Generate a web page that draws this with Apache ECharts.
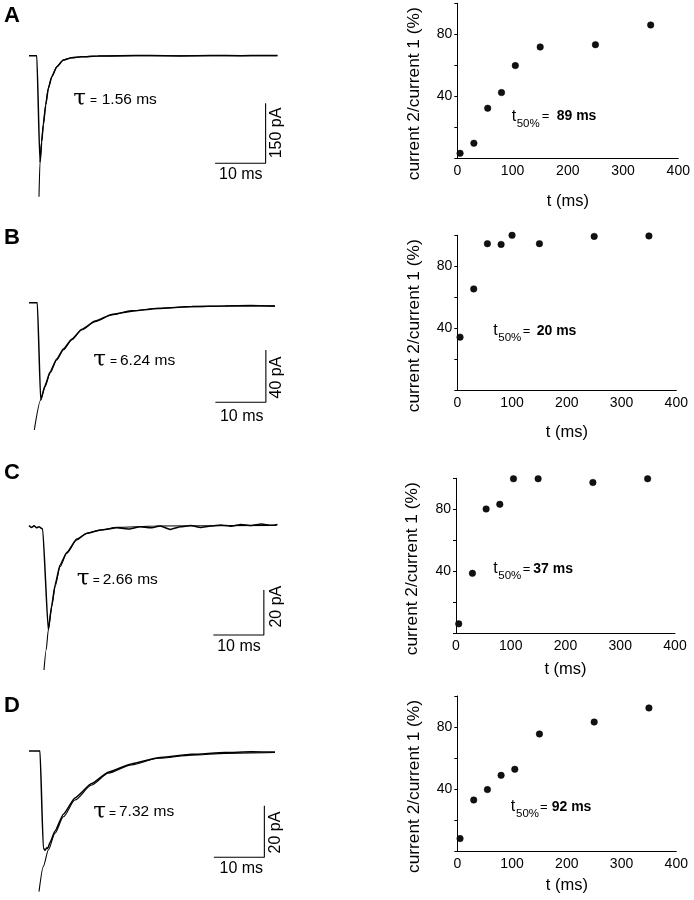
<!DOCTYPE html>
<html><head><meta charset="utf-8">
<script src="https://cdn.jsdelivr.net/npm/echarts@6/dist/echarts.min.js"></script>
<style>html,body{margin:0;padding:0;background:#fff}#c{width:694px;height:900px}</style>
</head><body><div id="c"></div>
<script>
// ---------- DATA ----------
const panelLetters = ['A', 'B', 'C', 'D'];
const tauLabels = ['1.56 ms', '6.24 ms', '2.66 ms', '7.32 ms'];
const t50Labels = ['89 ms', '20 ms', '37 ms', '92 ms'];
const currentScaleLabels = ['150 pA', '40 pA', '20 pA', '20 pA'];
const timeScaleLabel = '10 ms';
const xTickValues = [0, 100, 200, 300, 400];
const yLabelledTicks = [40, 80];

// paired-pulse intervals (ms) and recovery (%)
const intervalsA = [5, 30, 55, 80, 105, 150, 250, 350];
const recoveryA  = [3.2, 9.7, 32.3, 42.4, 59.8, 71.8, 73.3, 86];
const intervalsB = [5, 30, 55, 80, 100, 150, 250, 350];
const recoveryB  = [34.3, 65.4, 94.6, 94.1, 100, 94.6, 99.3, 99.6];
const intervalsC = [5, 30, 55, 80, 105, 150, 250, 350];
const recoveryC  = [6.1, 38.7, 80.2, 83.2, 99.7, 99.7, 97.3, 99.7];
const intervalsD = [5, 30, 55, 80, 105, 150, 250, 350];
const recoveryD  = [8, 32.9, 39.6, 48.8, 52.7, 75.5, 83.2, 92.3];

// current traces [time ms, current pA]
const traceA = [[0,0],[1.55,0],[2.15,-262],[2.22,-265],[2.5,-216],[2.83,-173],[3.31,-123],[3.82,-82],[4.5,-53],[5.49,-28],[6.79,-11],[8.46,-5],[10.4,-2.5],[13.7,-1],[18,0],[24,0.8],[30,-0.5],[36,0.6],[42,0],[46,0.5],[49.2,0.3]];
const fitA   = [[1.98,-352.5],[2.18,-265],[2.51,-215],[2.83,-173],[3.31,-123],[3.82,-81.5],[4.5,-52.5],[5.49,-27.5],[6.79,-10.8],[8.46,-5],[10.4,-2.5],[13.7,-0.75],[21,0],[49.2,0]];
const traceB = [[0,0],[1.65,0],[2.31,-74.4],[3.17,-63.5],[4.16,-53],[5.48,-43],[6.8,-35.5],[8.45,-28],[10.4,-20.5],[13.1,-14],[16.4,-9],[20.3,-6.5],[25.6,-4.5],[32.2,-3],[38.8,-2.6],[44,-2.2],[48.7,-2.8]];
const fitB   = [[1.05,-97.3],[2.31,-74.4],[3.17,-64.2],[4.16,-54],[5.48,-43.8],[6.8,-36.2],[8.45,-28.5],[10.4,-20.9],[13.1,-14.5],[16.4,-9.4],[20.3,-6.1],[25.6,-4.3],[32.2,-3.1],[38.8,-2.5],[48.7,-2.3]];
const traceC = [[0,0.5],[0.5,-0.3],[1,0.4],[1.5,-0.5],[2,0],[2.5,-0.8],[2.71,-1],[3.82,-45.9],[4.5,-35],[5.15,-26],[6.14,-17],[7.47,-11.5],[9.45,-5.5],[11.4,-3],[14.1,-1.5],[17.4,-0.5],[20,-1],[22,0],[24,-0.5],[26,0.3],[28,-1.2],[30,0],[32,0.5],[34,-0.3],[36,0.3],[38,0.8],[40,0.2],[42,1],[44,0.5],[46,1.2],[48,0.6],[49.2,1]];
const fitC   = [[2.97,-63.7],[3.4,-54.8],[3.82,-45.9],[4.5,-35.6],[5.15,-26.7],[6.14,-17.8],[7.47,-11.8],[9.45,-5.9],[11.4,-2.9],[14.1,-1.5],[17.4,-0.3],[25,0.3],[49,0.6]];
const traceD = [[0,0],[2.18,0],[2.83,-37.5],[3.17,-38.5],[3.5,-37.5],[3.7,-37.8],[4.16,-35.5],[5.15,-31],[6.8,-24.5],[9.1,-18.2],[12.4,-12.6],[15.7,-8.2],[20.3,-5],[25.6,-2.6],[32.2,-1.3],[38.8,-0.6],[44,-0.3],[48.7,-0.4]];
const fitD   = [[1.98,-54.5],[2.83,-44.8],[3.82,-38.4],[5.15,-31.9],[6.8,-25.5],[9.1,-19],[12.4,-13.2],[15.7,-8.6],[20.3,-5.4],[25.6,-2.8],[32.2,-1.6],[38.8,-0.9],[48.7,-0.6]];

// scale bars [time ms, current pA]: 10 ms horizontal, then vertical current bar
const scaleBarA = [[36.85,-269],[46.85,-269],[46.85,-119]];
const scaleBarB = [[36.9,-76.1],[46.9,-76.1],[46.9,-36.1]];
const scaleBarC = [[36.5,-48.1],[46.5,-48.1],[46.5,-28.1]];
const scaleBarD = [[36.6,-41.2],[46.6,-41.2],[46.6,-21.2]];

// ---------- LAYOUT ----------
const FONT = "'Liberation Sans', Arial, Helvetica, sans-serif";
const INK = '#000';
const traces = [traceA, traceB, traceC, traceD];
const fits = [fitA, fitB, fitC, fitD];
const bars = [scaleBarA, scaleBarB, scaleBarC, scaleBarD];
const intervals = [intervalsA, intervalsB, intervalsC, intervalsD];
const recovery = [recoveryA, recoveryB, recoveryC, recoveryD];

const leftLayout = [
  {top: 45.7, height: 154, ymin: -360, ymax: 25},
  {top: 289.6, height: 143.9, ymin: -100, ymax: 10},
  {top: 515.45, height: 157.5, ymin: -65, ymax: 5},
  {top: 740.7, height: 152.2, ymin: -55, ymax: 4}
];
const rightLayout = [
  {left: 457.3, top: 3.3, width: 221, height: 155, nameGap: 35},
  {left: 457.3, top: 235.3, width: 219, height: 155, nameGap: 34},
  {left: 456, top: 478.3, width: 219, height: 155, nameGap: 28},
  {left: 457.3, top: 696, width: 219, height: 155, nameGap: 26}
];
// text placements
const letterPos = [[4, 16.2], [4, 237.7], [4, 473.3], [4, 705.8]];
const tauPos = [ // tau x, "=" x, value x, y
  [73.3, 90, 101.7, 99.5], [93.3, 110, 120, 360.5], [76.7, 92.7, 102.7, 579.5], [93.3, 109, 119, 812.2]
];
const t50Pos = [ // t x, sub x, "=" x, value x, y
  [511.7, 516.7, 541.7, 556.7, 116.5], [493.3, 498.3, 522.7, 536.7, 331], [493.3, 498.3, 522.7, 533.3, 569], [510.7, 516, 540, 551.7, 807]
];
const msLabelPos = [[240.8, 175], [241.7, 417], [239, 647], [241.3, 869]];
const paLabelPos = [[277, 133], [277, 377.5], [276.3, 606.7], [276, 832.5]];

const grids = [], xAxes = [], yAxes = [], series = [], graphics = [];
for (let i = 0; i < 4; i++) {
  const L = leftLayout[i];
  grids.push({left: 29, top: L.top, width: 250, height: L.height});
  xAxes.push({type: 'value', gridIndex: i, min: 0, max: 49.5, show: false});
  yAxes.push({type: 'value', gridIndex: i, min: L.ymin, max: L.ymax, show: false});
}
for (let i = 0; i < 4; i++) {
  const R = rightLayout[i];
  grids.push({left: R.left, top: R.top, width: R.width, height: R.height});
  xAxes.push({
    type: 'value', gridIndex: 4 + i, min: 0, max: 400, interval: 100,
    name: 't (ms)', nameLocation: 'middle', nameGap: R.nameGap,
    nameTextStyle: {fontFamily: FONT, fontSize: 16.5, color: INK},
    axisLine: {show: true, lineStyle: {color: INK, width: 1}},
    axisTick: {show: false}, splitLine: {show: false},
    axisLabel: {fontFamily: FONT, fontSize: 14, color: INK, margin: 6,
      formatter: v => xTickValues.includes(v) ? String(v) : ''}
  });
  yAxes.push({
    type: 'value', gridIndex: 4 + i, min: 0, max: 100, interval: 20,
    name: 'current 2/current 1 (%)', nameLocation: 'middle', nameGap: 35,
    nameTextStyle: {fontFamily: FONT, fontSize: 17.3, color: INK, padding: [0, 26, 0, 0]},
    axisLine: {show: true, lineStyle: {color: INK, width: 1}},
    axisTick: {show: true, length: 3, lineStyle: {color: INK, width: 1}},
    splitLine: {show: false},
    axisLabel: {fontFamily: FONT, fontSize: 14, color: INK, margin: 5,
      formatter: v => yLabelledTicks.includes(v) ? String(v) : ''}
  });
}
for (let i = 0; i < 4; i++) {
  series.push({type: 'line', xAxisIndex: i, yAxisIndex: i, data: fits[i], showSymbol: false, symbol: 'none',
    smooth: 0.25, smoothMonotone: 'x', lineStyle: {color: INK, width: 1.1}, silent: true});
  series.push({type: 'line', xAxisIndex: i, yAxisIndex: i, data: traces[i], showSymbol: false, symbol: 'none',
    smooth: 0.15, smoothMonotone: 'x', lineStyle: {color: INK, width: 1.5}, silent: true});
  series.push({type: 'line', xAxisIndex: i, yAxisIndex: i, data: bars[i], showSymbol: false, symbol: 'none',
    lineStyle: {color: INK, width: 1.1}, silent: true});
  series.push({type: 'scatter', xAxisIndex: 4 + i, yAxisIndex: 4 + i,
    data: intervals[i].map((t, k) => [t, recovery[i][k]]),
    symbolSize: 6.5, clip: false, itemStyle: {color: '#111', opacity: 1, borderColor: '#000', borderWidth: 0.5}});

  const txt = (x, y, text, opts) => graphics.push(Object.assign({type: 'text', x, y,
    style: Object.assign({text, fill: INK, fontFamily: FONT, fontSize: 15, align: 'left', verticalAlign: 'middle'}, opts.style || {})},
    opts.rotation !== undefined ? {rotation: opts.rotation} : {}));

  txt(letterPos[i][0], letterPos[i][1], panelLetters[i], {style: {fontSize: 22, fontWeight: 'bold'}});
  const tp = tauPos[i];
  txt(tp[0], tp[3], '\u03C4', {style: {fontSize: 23, fontFamily: "'DejaVu Serif', 'Liberation Serif', serif"}});
  txt(tp[1], tp[3] + 1, '=', {style: {fontSize: 12}});
  txt(tp[2], tp[3], tauLabels[i], {style: {fontSize: 15.5}});
  const sp = t50Pos[i];
  txt(sp[0], sp[4], 't', {style: {fontSize: 16}});
  txt(sp[1], sp[4] + 7, '50%', {style: {fontSize: 11.5}});
  txt(sp[2], sp[4], '=', {style: {fontSize: 13}});
  txt(sp[3], sp[4], t50Labels[i], {style: {fontSize: 14, fontWeight: 'bold'}});
  txt(msLabelPos[i][0], msLabelPos[i][1], timeScaleLabel, {style: {fontSize: 16, align: 'center'}});
  txt(paLabelPos[i][0], paLabelPos[i][1], currentScaleLabels[i], {rotation: Math.PI / 2, style: {fontSize: 16, align: 'center'}});
}

const chart = echarts.init(document.getElementById('c'), null, {renderer: 'canvas'});
chart.setOption({
  backgroundColor: '#fff', animation: false,
  grid: grids, xAxis: xAxes, yAxis: yAxes, series: series, graphic: graphics
});
</script></body></html>
